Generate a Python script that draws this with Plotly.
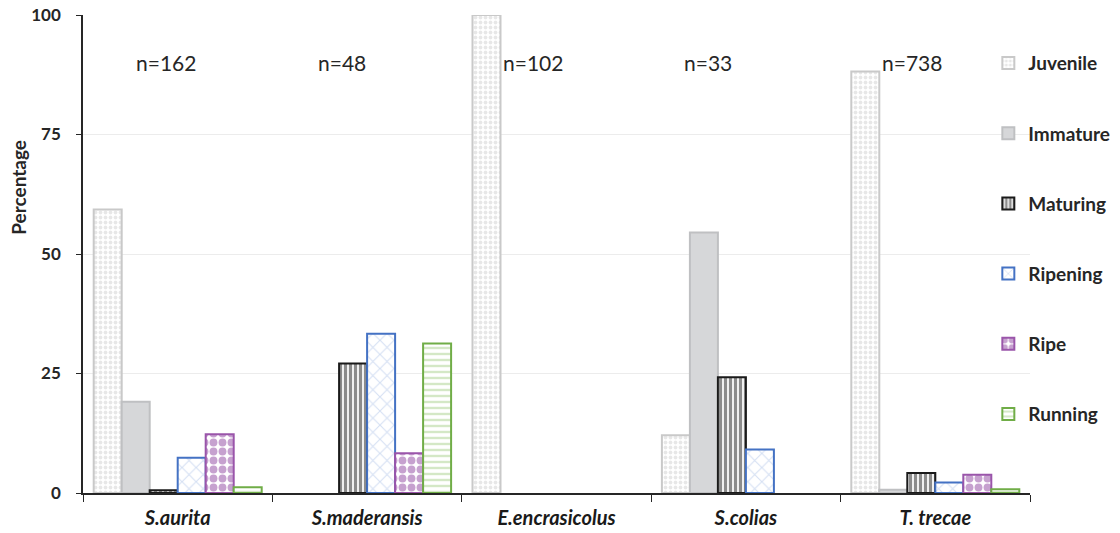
import plotly.graph_objects as go

# Species (x categories) and sample sizes
species = ["S.aurita", "S.maderansis", "E.encrasicolus", "S.colias", "T. trecae"]
sample_sizes = ["n=162", "n=48", "n=102", "n=33", "n=738"]

# Maturity stage percentages per species
juvenile = [59.3, 0, 100, 12.1, 88.2]
immature = [19.1, 0, 0, 54.5, 0.7]
maturing = [0.6, 27.1, 0, 24.2, 4.2]
ripening = [7.4, 33.3, 0, 9.1, 2.2]
ripe = [12.3, 8.3, 0, 0, 3.8]
running = [1.2, 31.3, 0, 0, 0.8]

FONT = "Lato, Liberation Sans"

stages = [
    ("Juvenile", juvenile, "#c9c9c9",
     dict(color="white",
          pattern=dict(shape=".", fgcolor="#cfcfcf", bgcolor="white", size=5, solidity=0.45))),
    ("Immature", immature, "#bfc0c2",
     dict(color="#d6d7d9")),
    ("Maturing", maturing, "#1a1a1a",
     dict(color="white",
          pattern=dict(shape="|", fgcolor="#1a1a1a", bgcolor="white", size=5, solidity=0.65))),
    ("Ripening", ripening, "#4472c4",
     dict(color="white",
          pattern=dict(shape="x", fgcolor="#a9bfe6", bgcolor="white", size=10, solidity=0.2))),
    ("Ripe", ripe, "#9a55aa",
     dict(color="white",
          pattern=dict(shape=".", fgcolor="#8e44a0", bgcolor="white", size=9, solidity=0.6))),
    ("Running", running, "#70ad47",
     dict(color="white",
          pattern=dict(shape="-", fgcolor="#a9d18e", bgcolor="white", size=6, solidity=0.4))),
]

fig = go.Figure()
for i, (name, vals, edge, marker) in enumerate(stages):
    # no outline where a stage is absent, so empty bars stay invisible
    widths = [2 if v > 0 else 0 for v in vals]
    marker = dict(marker, line=dict(color=edge, width=widths))
    fig.add_trace(go.Bar(
        name=name, x=species, y=vals, marker=marker,
        legendgroup=f"g{i}",
    ))

for sp, label, shift in zip(species, sample_sizes, [-12, -25, -24, -38, -23]):
    fig.add_annotation(
        x=sp, y=90, xref="x", yref="y", text=label, showarrow=False,
        xshift=shift, font=dict(family=FONT, size=21, color="#262626"),
    )

# y-axis title, set a little above the middle of the axis
fig.add_annotation(
    x=-0.069, y=0.64, xref="paper", yref="paper", text="Percentage",
    textangle=-90, showarrow=False, xanchor="center", yanchor="middle",
    font=dict(size=19, family=FONT, weight="bold", color="#262626"),
)

fig.update_layout(
    width=1120, height=533,
    margin=dict(l=83, r=90, t=15, b=40, autoexpand=False),
    paper_bgcolor="white", plot_bgcolor="white",
    barmode="group", bargap=0.113, bargroupgap=0,
    font=dict(family=FONT, color="#262626"),
    showlegend=True,
    legend=dict(
        x=0.956, xanchor="left", y=0.939, yanchor="top",
        font=dict(size=19, family=FONT, weight="bold", color="#262626"),
        tracegroupgap=42.5, bgcolor="rgba(0,0,0,0)",
    ),
    xaxis=dict(
        showline=True, linecolor="#262626", linewidth=1.5,
        ticks="outside", tickson="boundaries", ticklen=7, tickcolor="#262626",
        ticklabelstandoff=6,
        tickfont=dict(size=20, family=FONT, weight="bold", style="italic", color="#1a1a1a"),
        showgrid=False,
    ),
    yaxis=dict(
        range=[0, 100], tickvals=[0, 25, 50, 75, 100],
        showline=True, linecolor="#262626", linewidth=1.5,
        ticks="outside", ticklen=5, tickcolor="#262626",
        ticklabelstandoff=12,
        tickfont=dict(size=17, family=FONT, weight="bold", color="#262626"),
        showgrid=True, gridcolor="#ececec", gridwidth=1,
        zeroline=False,
    ),
)

fig.write_html("out.html")
